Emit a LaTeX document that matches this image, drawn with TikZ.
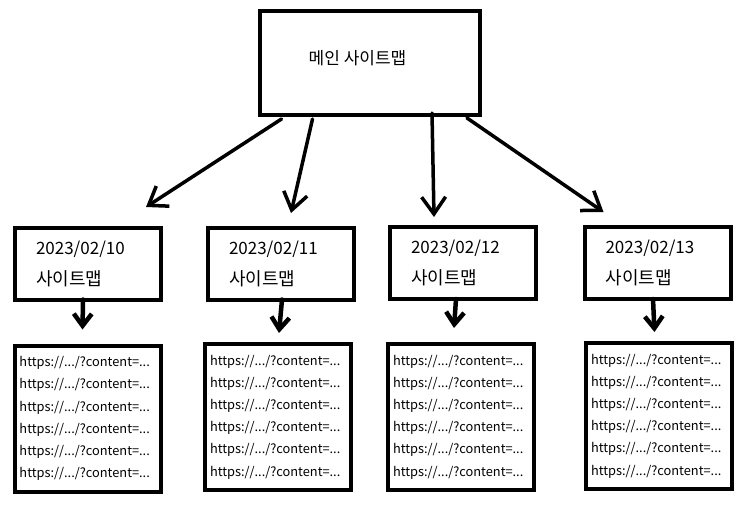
\documentclass[tikz,border=0pt]{standalone}
\usepackage{fontspec}
\setmainfont{Noto Sans CJK KR}
\usetikzlibrary{positioning, arrows.meta, calc}

\newcommand{\urllines}{https://.../?content=...\\https://.../?content=...\\https://.../?content=...\\https://.../?content=...\\https://.../?content=...\\https://.../?content=...}

\begin{document}
\begin{tikzpicture}[x=1pt, y=-1pt,
  mainbox/.style={draw, line width=4pt, minimum width=220pt, minimum height=104pt, inner sep=0pt, outer sep=0pt},
  datebox/.style={draw, line width=4pt, minimum width=146pt, minimum height=72pt, text width=104pt, align=left, inner sep=0pt, outer sep=0pt, font=\fontsize{17}{31}\selectfont},
  urlbox/.style={draw, line width=4pt, minimum width=146pt, minimum height=146pt, text width=136pt, align=left, inner sep=0pt, outer sep=0pt, font=\fontsize{12.8}{22.2}\selectfont},
  bigarrow/.style={-{Straight Barb[length=17pt,width=24pt]}, line width=3.5pt, line cap=round},
  smallarrow/.style={-{Straight Barb[length=12pt,width=18pt]}, line width=4.5pt, line cap=round}]

\useasboundingbox (0,0) rectangle (743,504);

% main sitemap
\node[mainbox] (main) at (370,62.5) {};
\node[font=\fontsize{17}{20}\selectfont] (maintitle) at (357.5,58) {메인 사이트맵};

% one column per day
\foreach \n/\dx/\dy/\ux/\uy/\day/\ax/\gap in {1/88/263.5/87.5/418.5/10/-5/16, 2/281/263.5/278/417/11/1/11, 3/463/263/461/417/12/-7/16, 4/657.5/263/659/416/13/-4.5/11} {
  \node[datebox] (d\n) at (\dx,\dy) {2023/02/\day\\{\fontsize{18}{31}\selectfont 사이트맵}};
  \node[urlbox] (u\n) at (\ux,\uy) {\urllines};
  \draw[smallarrow] ($(d\n.south)+(\ax,0)$) -- ($(u\n.north)+(\ax,-\gap)$);
}

% arrows from main
\draw[bigarrow] ($(main.south west)+(21.5,4.5)$) -- ($(d1.north east)+(-15,-20.5)$);
\draw[bigarrow] ($(main.south west)+(52.5,4.5)$) -- ($(d2.north)+(10,-14.5)$);
\draw[bigarrow] ($(main.south east)+(-48,-1.5)$) -- ($(d3.north)+(-29,-10)$);
\draw[bigarrow] ($(main.south east)+(-13,3.5)$) -- ($(d4.north west)+(19,-15)$);

\end{tikzpicture}
\end{document}
